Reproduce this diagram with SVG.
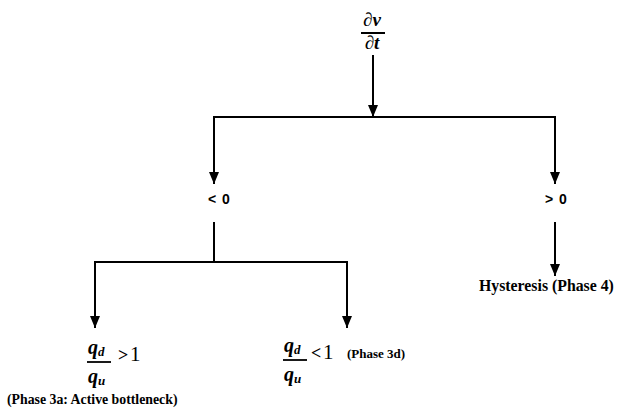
<svg xmlns="http://www.w3.org/2000/svg" width="621" height="416" viewBox="0 0 621 416">
<defs>
<style>
.ln{stroke:#000;stroke-width:2;fill:none}
.ar{marker-end:url(#ah)}
.t{font-family:"Liberation Serif","Times New Roman",serif;font-weight:bold;fill:#000}
.s{font-family:"Liberation Sans",Arial,sans-serif;font-weight:bold;font-size:14px;fill:#000}
.m{font-family:"Liberation Serif","Times New Roman",serif;font-style:italic;font-weight:bold;fill:#000}
.r{font-family:"Liberation Serif","Times New Roman",serif;fill:#000}
.sub{font-size:13px}
</style>
<marker id="ah" markerUnits="userSpaceOnUse" markerWidth="12" markerHeight="10" refX="12" refY="5" orient="auto">
<path d="M0,0 L12,5 L0,10 Z" fill="#000"/>
</marker>
</defs>
<rect width="621" height="416" fill="#fff"/>
<g id="connectors">
<line class="ln ar" x1="373" y1="55" x2="373" y2="117"/>
<line class="ln" x1="213" y1="117" x2="556" y2="117"/>
<line class="ln ar" x1="214" y1="117" x2="214" y2="184"/>
<line class="ln ar" x1="555" y1="117" x2="555" y2="184"/>
<line class="ln" x1="214" y1="222" x2="214" y2="262"/>
<line class="ln" x1="94" y1="262" x2="348" y2="262"/>
<line class="ln ar" x1="95" y1="262" x2="95" y2="328"/>
<line class="ln ar" x1="347" y1="262" x2="347" y2="328"/>
<line class="ln ar" x1="555" y1="222" x2="555" y2="276"/>
</g>
<g id="root">
<text class="m" x="372" y="26" font-size="19" text-anchor="middle">∂v</text>
<line x1="361" y1="33" x2="385" y2="33" stroke="#000" stroke-width="2"/>
<text class="m" x="372" y="49" font-size="19" text-anchor="middle">∂t</text>
</g>
<g id="neg">
<text class="s" x="208" y="204">&lt;</text>
<text class="s" x="222" y="204">0</text>
</g>
<g id="pos">
<text class="s" x="545" y="204">&gt;</text>
<text class="s" x="559" y="204">0</text>
</g>
<g id="hysteresis">
<text class="t" x="479" y="291" font-size="15.8">Hysteresis (Phase 4)</text>
</g>
<g id="phase3a">
<text class="m" x="88" y="354" font-size="20">q<tspan class="sub" dy="2">d</tspan></text>
<line x1="87" y1="362" x2="111" y2="362" stroke="#000" stroke-width="1.8"/>
<text class="m" x="88" y="383" font-size="20">q<tspan class="sub" dy="2">u</tspan></text>
<text class="t" x="118" y="361" font-size="18">&gt;</text>
<text class="r" x="130" y="361" font-size="21">1</text>
<text class="t" x="7" y="404" font-size="13.8">(Phase 3a: Active bottleneck)</text>
</g>
<g id="phase3d">
<text class="m" x="284" y="352" font-size="20">q<tspan class="sub" dy="2">d</tspan></text>
<line x1="283" y1="360" x2="307" y2="360" stroke="#000" stroke-width="1.8"/>
<text class="m" x="284" y="381" font-size="20">q<tspan class="sub" dy="2">u</tspan></text>
<text class="t" x="311" y="359" font-size="18">&lt;</text>
<text class="r" x="323" y="359" font-size="21">1</text>
<text class="t" x="347" y="358" font-size="13">(Phase 3d)</text>
</g>
</svg>
